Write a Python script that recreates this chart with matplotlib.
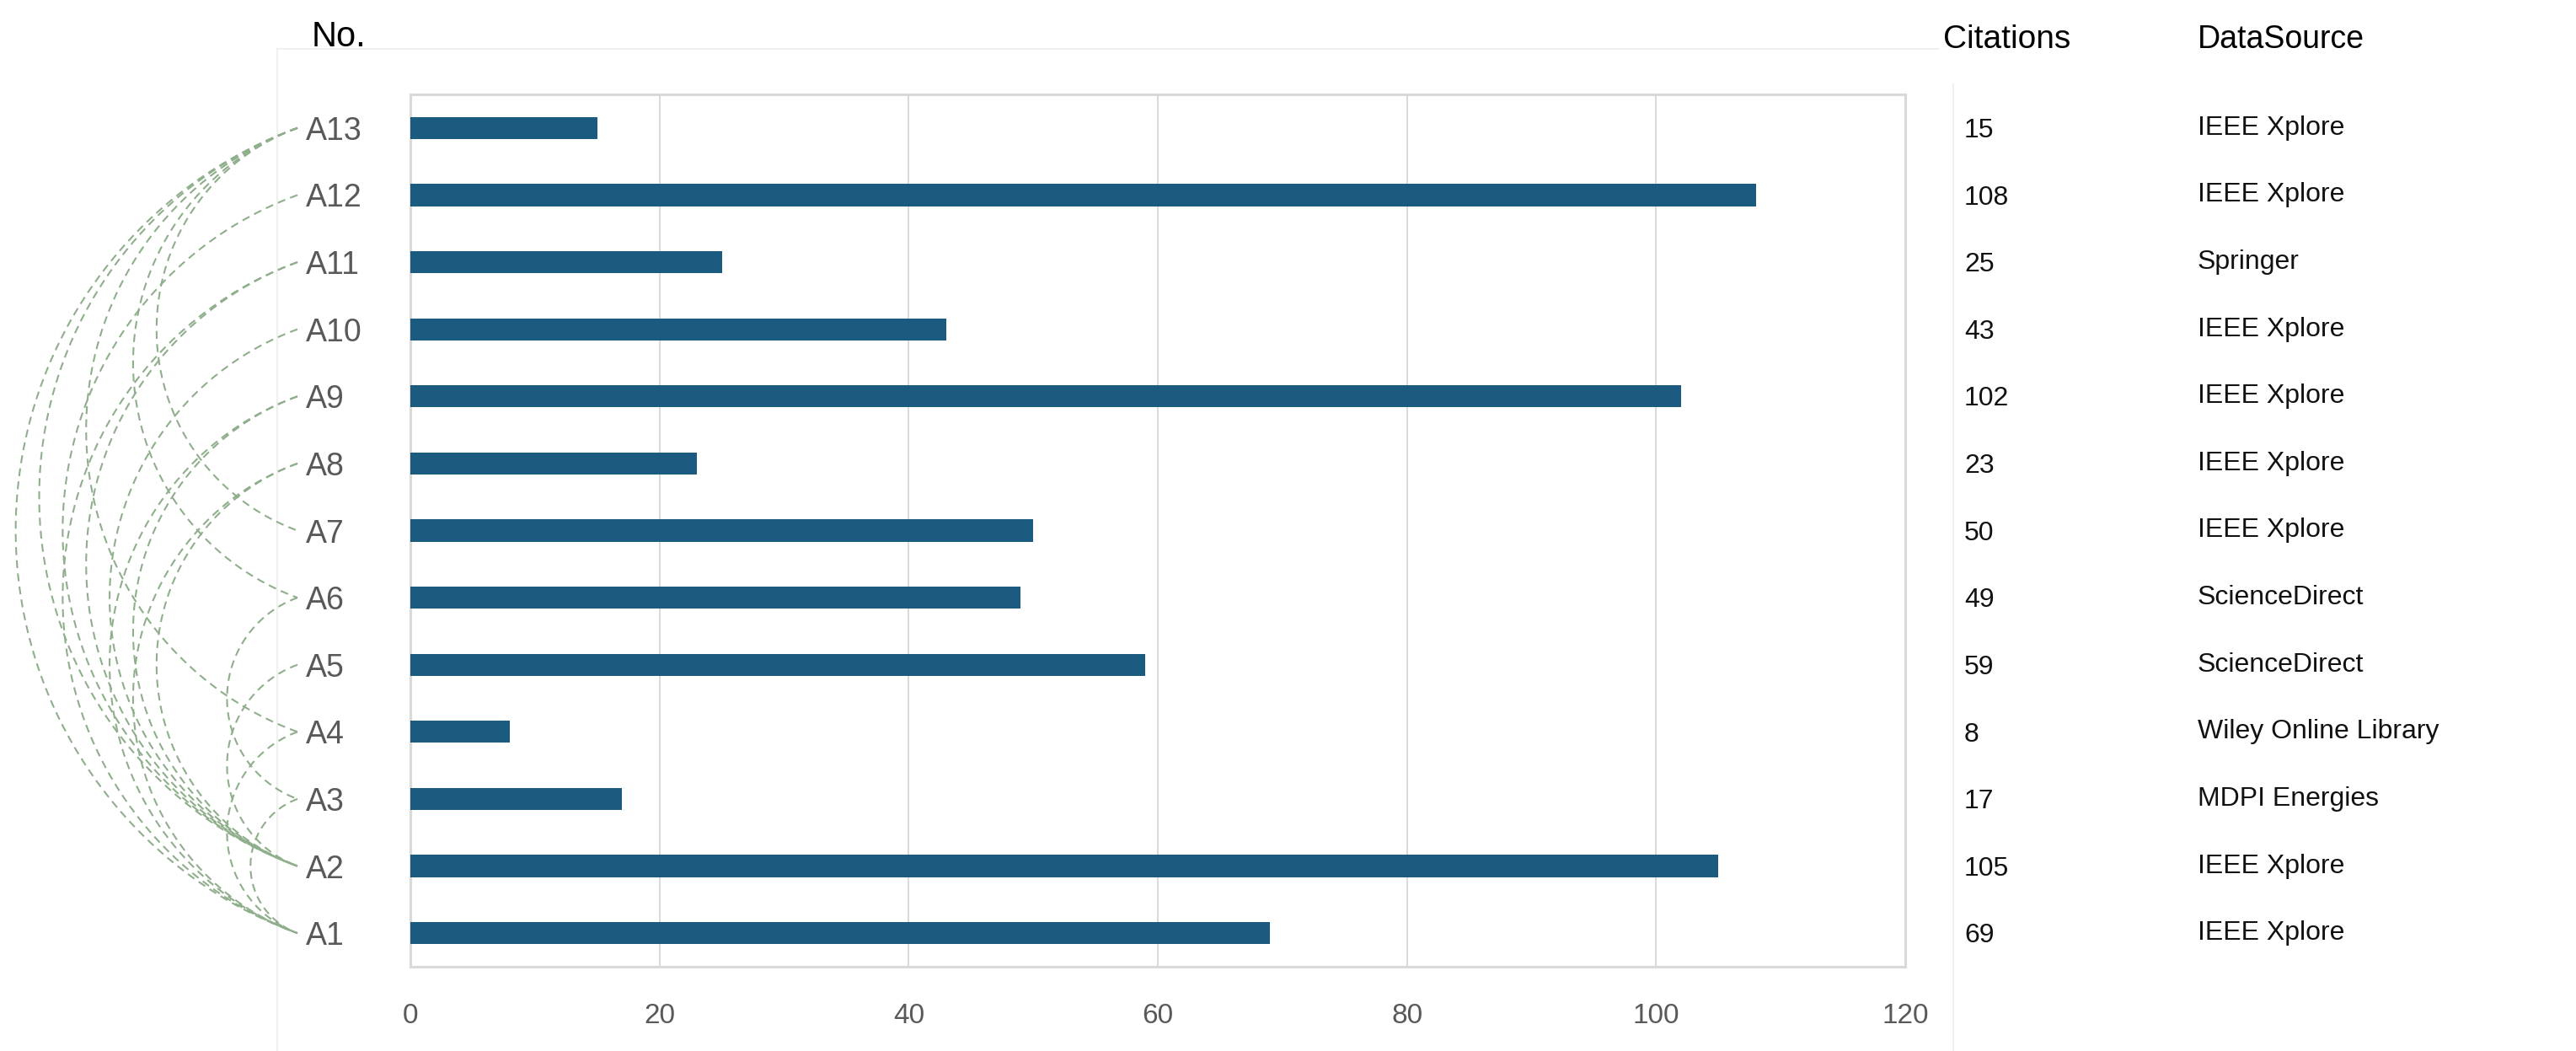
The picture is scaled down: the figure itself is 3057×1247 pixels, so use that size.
import matplotlib
matplotlib.use("Agg")
import matplotlib.pyplot as plt
from matplotlib.lines import Line2D
from matplotlib import transforms
import numpy as np

plt.rcParams["font.family"] = ["Liberation Sans", "DejaVu Sans"]

# ---------------------------------------------------------------- data
papers = ["A1", "A2", "A3", "A4", "A5", "A6", "A7",
          "A8", "A9", "A10", "A11", "A12", "A13"]
citations = [69, 105, 17, 8, 59, 49, 50, 23, 102, 43, 25, 108, 15]
sources = ["IEEE Xplore", "IEEE Xplore", "MDPI Energies",
           "Wiley Online Library", "ScienceDirect", "ScienceDirect",
           "IEEE Xplore", "IEEE Xplore", "IEEE Xplore", "IEEE Xplore",
           "Springer", "IEEE Xplore", "IEEE Xplore"]
# citation links between papers (drawn as dashed arcs on the left)
links = [("A13", "A1"), ("A13", "A2"), ("A13", "A4"), ("A13", "A6"),
         ("A13", "A7"), ("A12", "A2"), ("A11", "A1"), ("A11", "A2"),
         ("A10", "A2"), ("A9", "A1"), ("A9", "A2"), ("A8", "A1"),
         ("A8", "A2"), ("A6", "A3"), ("A5", "A2"), ("A4", "A1"),
         ("A3", "A1")]

# ---------------------------------------------------------------- layout
W, H = 3057, 1247
BAR = "#1a5b7f"
GRID = "#d9d9d9"
TICK = "#595959"
ARC = "#8fae8b"

fig = plt.figure(figsize=(W / 100, H / 100), dpi=100)
ax = fig.add_axes([487 / W, 1 - 1147 / H, (2261 - 487) / W, (1147 - 112) / H])

ypos = np.arange(len(papers))
ax.barh(ypos, citations, height=0.33, color=BAR, zorder=3)
ax.set_xlim(0, 120)
ax.set_ylim(-0.5, len(papers) - 0.5)
ax.set_xticks(np.arange(0, 121, 20))
ax.grid(axis="x", color=GRID, lw=1.4, zorder=0)
for s in ax.spines.values():
    s.set_color(GRID)
    s.set_linewidth(2.2)

ax.tick_params(axis="x", length=0, pad=31, labelsize=24, labelcolor=TICK)
ax.set_yticks(ypos, papers)
ax.tick_params(axis="y", length=0, pad=89, labelsize=27, labelcolor=TICK)
for lab in ax.get_yticklabels():
    lab.set_horizontalalignment("left")

# faint outer frame
for xs, ys in [((329, 329), (58, H)), ((329, 2300), (58, 58)),
               ((2318, 2318), (100, H))]:
    fig.add_artist(Line2D(np.array(xs) / W, 1 - np.array(ys) / H,
                          transform=fig.transFigure, color="#f0f0f0", lw=1.5))

# headers
fig.text(370 / W, 1 - 44 / H, "No.", fontsize=30, va="center", ha="left")
fig.text(2306 / W, 1 - 47 / H, "Citations", fontsize=28, va="center", ha="left")
fig.text(2608 / W, 1 - 47 / H, "DataSource", fontsize=27, va="center", ha="left")

# right-hand columns
tr = transforms.blended_transform_factory(fig.transFigure, ax.transData)
for y, c, src in zip(ypos, citations, sources):
    ax.text(2331 / W, y - 0.04, str(c), transform=tr, fontsize=23, va="center",
            ha="left", color="#111111")
    ax.text(2608 / W, y, src, transform=tr, fontsize=23, va="center",
            ha="left", color="#111111")

# dashed arcs: circular arcs bulging left, sagitta proportional to chord
x_end = ax.transAxes.transform((0, 0))[0] - 134
k = 0.35
to_fig = fig.transFigure.inverted()
for a, b in links:
    ya = ax.transData.transform((0, papers.index(a)))[1]
    yb = ax.transData.transform((0, papers.index(b)))[1]
    c = abs(ya - yb)
    sag = k * c
    r = (sag ** 2 + c ** 2 / 4) / (2 * sag)
    cx, cy = x_end - sag + r, (ya + yb) / 2
    th = np.arcsin((c / 2) / r)
    t = np.linspace(np.pi - th, np.pi + th, 200)
    pts = to_fig.transform(np.column_stack([cx + r * np.cos(t), cy + r * np.sin(t)]))
    fig.add_artist(Line2D(pts[:, 0], pts[:, 1], transform=fig.transFigure,
                          color=ARC, lw=1.5, ls=(0, (4.5, 3))))

fig.savefig("out.png", dpi=100)
